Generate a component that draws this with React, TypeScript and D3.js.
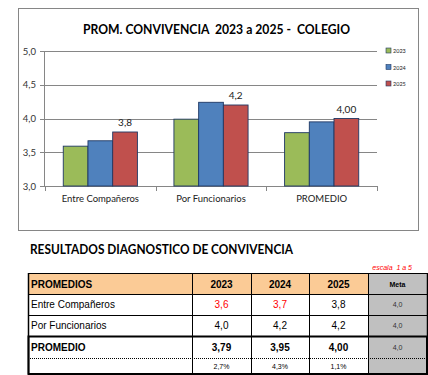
import React from "react";
import * as d3 from "d3";

const categories = ["Entre Compañeros", "Por Funcionarios", "PROMEDIO"];
const years = ["2023", "2024", "2025"];
const values2023 = [3.59, 3.99, 3.79];
const values2024 = [3.67, 4.24, 3.95];
const values2025 = [3.8, 4.2, 4.0];
const labels2025 = ["3,8", "4,2", "4,00"];
const yTicks = [3.0, 3.5, 4.0, 4.5, 5.0];
const meta = 4.0;
const colors = ["#9BBB59", "#4F81BD", "#C0504D"];

const tableHeader = ["PROMEDIOS", "2023", "2024", "2025", "Meta"];
const rowNames = ["Entre Compañeros", "Por Funcionarios", "PROMEDIO", ""];
const rowValues = [
  ["3,6", "3,7", "3,8"],
  ["4,0", "4,2", "4,2"],
  ["3,79", "3,95", "4,00"],
  ["2,7%", "4,3%", "1,1%"],
];
const metaValues = ["4,0", "4,0", "4,0", ""];
const redCells = [
  [true, true, false],
  [false, false, false],
  [false, false, false],
  [false, false, false],
];

const calibri = "Lato, 'Open Sans', sans-serif";
const arial = "'Liberation Sans', Arial, sans-serif";

export default function App() {
  const series = [values2023, values2024, values2025];
  const y = d3.scaleLinear().domain([3, 5]).range([186, 51]);
  const x0 = d3.scaleBand<string>().domain(categories).range([45, 377]);
  const groupW = x0.bandwidth() * 0.67;
  const x1 = d3.scaleBand<string>().domain(years).range([0, groupW]);
  const off = (x0.bandwidth() - groupW) / 2;

  // table geometry
  const colX = [28, 192, 251, 309, 368, 427];
  const rowY = [273, 294, 315, 336, 358, 374];

  return (
    <svg
      width={428}
      height={375}
      style={{ position: "absolute", left: 0, top: 0, background: "#fff" }}
    >
      <defs>
        <filter id="sh" x="-5%" y="-100%" width="110%" height="400%">
          <feDropShadow dx="1" dy="1.5" stdDeviation="0.8" floodColor="#000" floodOpacity="0.35" />
        </filter>
      </defs>
      {/* chart frame */}
      <rect x={18.5} y={8.5} width={400} height={222} fill="#fff" stroke="#868686" strokeWidth={1} />
      <text
        x={83}
        y={33.5}
        textLength={267}
        lengthAdjust="spacingAndGlyphs"
        fontFamily={calibri}
        fontWeight="bold"
        fontSize={13.5}
        fill="#000"
      >
        PROM. CONVIVENCIA{"\u00a0\u00a0"}2023 a 2025 -{"\u00a0\u00a0"}COLEGIO
      </text>

      {/* gridlines and y axis */}
      {yTicks.map((t) => (
        <g key={t}>
          <line x1={40} x2={377} y1={Math.round(y(t)) + 0.5} y2={Math.round(y(t)) + 0.5} stroke="#868686" strokeWidth={1} />
          <text
            x={36}
            y={y(t) + 3.5}
            textAnchor="end"
            fontFamily={calibri}
            fontSize={9.5}
            fill="#333"
          >
            {d3.format(".1f")(t).replace(".", ",")}
          </text>
        </g>
      ))}
      <line x1={44.5} x2={44.5} y1={y(5)} y2={y(3)} stroke="#868686" />
      {[...categories.map((c) => x0(c)!), 377].map((xx, i) => (
        <line key={i} x1={Math.round(xx) + 0.5} x2={Math.round(xx) + 0.5} y1={y(3)} y2={y(3) + 5} stroke="#868686" />
      ))}

      {/* bars */}
      {categories.map((c, ci) => (
        <g key={c}>
          {years.map((yr, si) => {
            const v = series[si][ci];
            const bx = x0(c)! + off + x1(yr)!;
            return (
              <rect
                key={yr}
                x={bx}
                y={y(v)}
                width={x1.bandwidth()}
                height={y(3) - y(v)}
                fill={colors[si]}
                stroke="#1F3864"
                strokeWidth={0.9}
              />
            );
          })}
          <text
            x={x0(c)! + off + x1("2025")! + x1.bandwidth() / 2}
            y={y(values2025[ci]) - 6}
            textAnchor="middle"
            fontFamily={calibri}
            fontSize={10}
            fill="#222"
          >
            {labels2025[ci]}
          </text>
          <text
            x={x0(c)! + x0.bandwidth() / 2}
            y={202}
            textAnchor="middle"
            fontFamily={calibri}
            fontSize={9.5}
            fill="#222"
          >
            {c}
          </text>
        </g>
      ))}

      {/* meta line */}
      <line x1={45} x2={383} y1={y(meta)} y2={y(meta)} stroke="#FF0000" strokeWidth={3} filter="url(#sh)" />

      {/* legend */}
      {years.map((yr, i) => (
        <g key={yr}>
          <rect x={386} y={48 + i * 16.5} width={5} height={5} fill={colors[i]} stroke="#1F3864" strokeWidth={0.6} />
          <text x={393} y={53 + i * 16.5} fontFamily={calibri} fontSize={5.5} fill="#222">
            {yr}
          </text>
        </g>
      ))}

      {/* table heading */}
      <text
        x={30}
        y={254}
        textLength={263}
        lengthAdjust="spacingAndGlyphs"
        fontFamily={calibri}
        fontWeight="bold"
        fontSize={13.5}
        fill="#000"
      >
        RESULTADOS DIAGNOSTICO DE CONVIVENCIA
      </text>
      <text x={412} y={270} textAnchor="end" fontFamily={arial} fontStyle="italic" fontSize={7} fill="#FF0000">
        escala{"\u00a0\u00a0"}1 a 5
      </text>

      {/* table fills */}
      <rect x={colX[0]} y={rowY[0]} width={colX[4] - colX[0]} height={rowY[1] - rowY[0]} fill="#FBCB96" />
      <rect x={colX[4]} y={rowY[0]} width={colX[5] - colX[4]} height={rowY[5] - rowY[0]} fill="#C0C0C0" />
      <rect x={colX[0]} y={rowY[1]} width={colX[4] - colX[0]} height={rowY[5] - rowY[1]} fill="#fff" />

      {/* table thin lines */}
      {[0, 1, 2].map((r) => (
        <line key={r} x1={colX[0]} x2={colX[5]} y1={rowY[r] + 0.5} y2={rowY[r] + 0.5} stroke="#000" strokeWidth={1} />
      ))}
      {colX.map((cx, i) => (
        <line key={i} x1={cx + 0.5} x2={cx + 0.5} y1={rowY[0]} y2={rowY[5]} stroke="#000" strokeWidth={i === 0 || i === 5 ? 1.5 : 1} />
      ))}
      <line x1={colX[0]} x2={colX[5]} y1={rowY[4] + 0.5} y2={rowY[4] + 0.5} stroke="#000" strokeWidth={1} strokeDasharray="1,1" />
      {/* thick box around promedio rows */}
      <rect
        x={colX[0] + 0.5}
        y={rowY[3] + 0.5}
        width={colX[5] - colX[0] - 0.5}
        height={rowY[5] - rowY[3] - 0.5}
        fill="none"
        stroke="#000"
        strokeWidth={2}
      />

      {/* header text */}
      {tableHeader.map((h, i) => (
        <text
          key={h}
          x={i === 0 ? colX[0] + 3 : (colX[i] + colX[i + 1]) / 2}
          y={i === 4 ? 287 : 288}
          textAnchor={i === 0 ? "start" : "middle"}
          fontFamily={arial}
          fontWeight="bold"
          fontSize={i === 4 ? 7 : 10}
          fill="#000"
        >
          {h}
        </text>
      ))}

      {/* rows */}
      {rowNames.map((name, r) => {
        const top = rowY[r + 1];
        const bot = rowY[r + 2];
        const mid = (top + bot) / 2;
        const bold = r === 2;
        const small = r === 3;
        return (
          <g key={r}>
            <text x={colX[0] + 3} y={mid + 3.5} fontFamily={arial} fontWeight={bold ? "bold" : "normal"} fontSize={10} fill="#000">
              {name}
            </text>
            {rowValues[r].map((v, c) => (
              <text
                key={c}
                x={(colX[c + 1] + colX[c + 2]) / 2}
                y={mid + (small ? 2.5 : 3.5)}
                textAnchor="middle"
                fontFamily={arial}
                fontWeight={bold ? "bold" : "normal"}
                fontSize={small ? 7 : 10}
                fill={redCells[r][c] ? "#FF0000" : "#000"}
              >
                {v}
              </text>
            ))}
            <text
              x={(colX[4] + colX[5]) / 2}
              y={mid + 2.5}
              textAnchor="middle"
              fontFamily={arial}
              fontSize={7}
              fill="#333"
            >
              {metaValues[r]}
            </text>
          </g>
        );
      })}
    </svg>
  );
}
